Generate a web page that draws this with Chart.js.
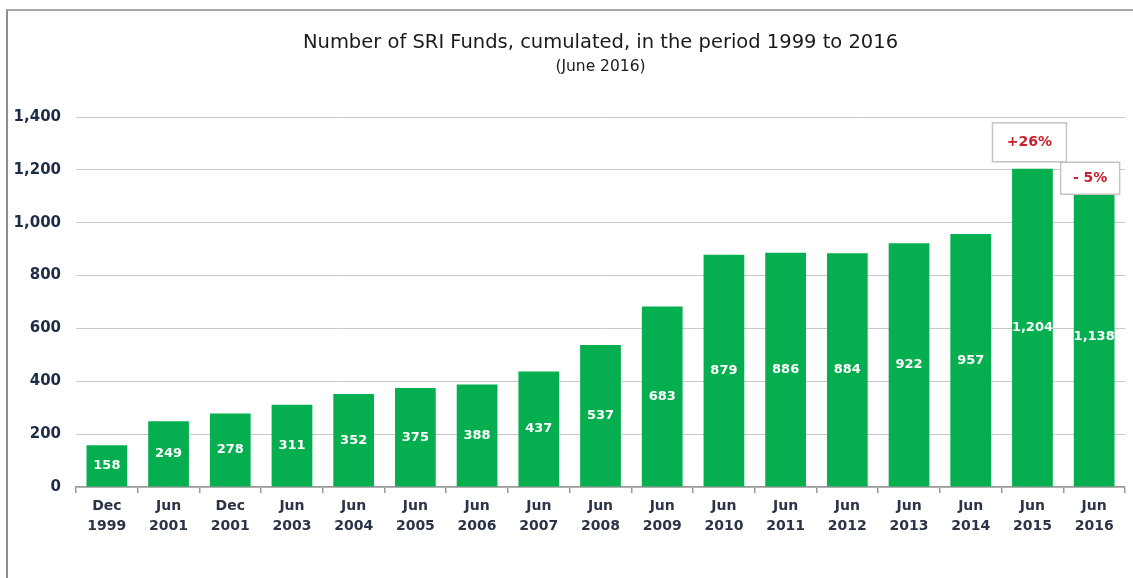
<!DOCTYPE html>
<html>
<head>
<meta charset="utf-8">
<script src="https://cdn.jsdelivr.net/npm/chart.js@4/dist/chart.umd.min.js"></script>
<style>
  html, body { margin: 0; padding: 0; background: #ffffff; }
  #wrap { position: relative; width: 1133px; height: 578px; overflow: hidden; }
  #c { position: absolute; left: 0; top: 0; }
  #frame { position: absolute; left: 6px; top: 9px; width: 1140px; height: 600px;
           border-left: 2px solid #8f8f8f; border-top: 2px solid #a8a8a8; pointer-events: none; }
</style>
</head>
<body>
<div id="wrap">
  <canvas id="c" width="1133" height="578"></canvas>
  <div id="frame"></div>
</div>
<script>
// ---- data ----
const categories = [
  ['Dec','1999'], ['Jun','2001'], ['Dec','2001'], ['Jun','2003'], ['Jun','2004'],
  ['Jun','2005'], ['Jun','2006'], ['Jun','2007'], ['Jun','2008'], ['Jun','2009'],
  ['Jun','2010'], ['Jun','2011'], ['Jun','2012'], ['Jun','2013'], ['Jun','2014'],
  ['Jun','2015'], ['Jun','2016']
];
const fundCounts = [158, 249, 278, 311, 352, 375, 388, 437, 537, 683, 879, 886, 884, 922, 957, 1204, 1138];
const yTicks = [0, 200, 400, 600, 800, 1000, 1200, 1400];
const changeIndices = [15, 16];
const changeLabels = ['+26%', '- 5%'];

const titleText = 'Number of SRI Funds, cumulated, in the period 1999 to 2016';
const subtitleText = '(June 2016)';

const GREEN = '#05ae4e';
const TICK_COLOR = '#1e2c46';

const valueLabels = {
  id: 'valueLabels',
  afterDatasetsDraw(chart) {
    const ctx = chart.ctx;
    const meta = chart.getDatasetMeta(0);
    ctx.save();
    ctx.fillStyle = '#ffffff';
    ctx.font = 'bold 13px "DejaVu Sans"';
    ctx.textAlign = 'center';
    ctx.textBaseline = 'middle';
    meta.data.forEach((bar, i) => {
      const v = fundCounts[i];
      const y = (bar.y + bar.base) / 2;
      ctx.fillText(v.toLocaleString('en-US'), bar.x, y);
    });
    ctx.restore();
  }
};

const changeBoxes = {
  id: 'changeBoxes',
  afterDatasetsDraw(chart) {
    const ctx = chart.ctx;
    const meta = chart.getDatasetMeta(0);
    const styles = [
      { w: 74, h: 39, dx: -3, gap: 7 },
      { w: 59, h: 32, dx: -4, gap: -8 }
    ];
    ctx.save();
    changeIndices.forEach((idx, k) => {
      const bar = meta.data[idx];
      const s = styles[k];
      const bottom = bar.y - s.gap;
      const left = bar.x + s.dx - s.w / 2;
      const top = bottom - s.h;
      ctx.fillStyle = '#ffffff';
      ctx.fillRect(left, top, s.w, s.h);
      ctx.strokeStyle = '#c4c4c4';
      ctx.lineWidth = 1.5;
      ctx.strokeRect(left, top, s.w, s.h);
      ctx.fillStyle = '#c8202c';
      ctx.font = 'bold 14px "DejaVu Sans"';
      ctx.textAlign = 'center';
      ctx.textBaseline = 'middle';
      ctx.fillText(changeLabels[k], left + s.w / 2, top + s.h / 2);
    });
    ctx.restore();
  }
};

new Chart(document.getElementById('c'), {
  type: 'bar',
  data: {
    labels: categories,
    datasets: [{
      data: fundCounts,
      backgroundColor: GREEN,
      borderWidth: 0,
      barPercentage: 0.66,
      categoryPercentage: 1.0
    }]
  },
  options: {
    responsive: false,
    animation: false,
    events: [],
    layout: { padding: { left: 0, right: 8, top: 0, bottom: 0 } },
    plugins: {
      legend: { display: false },
      tooltip: { enabled: false },
      title: {
        display: true,
        text: titleText,
        fullSize: false,
        color: '#1a1a1a',
        font: { family: '"DejaVu Sans"', size: 19.5, weight: 'normal', lineHeight: 1.2 },
        padding: { top: 31, bottom: 3 }
      },
      subtitle: {
        display: true,
        text: subtitleText,
        fullSize: false,
        color: '#1a1a1a',
        font: { family: '"DejaVu Sans"', size: 15.5, weight: 'normal', lineHeight: 1.2 },
        padding: { top: 0, bottom: 41 }
      }
    },
    scales: {
      x: {
        grid: {
          display: true,
          offset: true,
          drawOnChartArea: false,
          drawTicks: true,
          tickLength: 6,
          color: '#9a9a9a',
          lineWidth: 1.5
        },
        border: { display: true, color: '#9a9a9a', width: 1.5 },
        ticks: {
          color: '#2a3446',
          font: { family: '"DejaVu Sans"', size: 14, weight: 'bold', lineHeight: 1.4 },
          padding: 4,
          maxRotation: 0,
          autoSkip: false
        },
        afterFit(scale) { scale.height = 91; }
      },
      y: {
        min: 0,
        max: 1400,
        afterBuildTicks(scale) { scale.ticks = yTicks.map(v => ({ value: v })); },
        grid: {
          color: '#c9c9c9',
          lineWidth: 1,
          drawTicks: false
        },
        border: { display: false },
        ticks: {
          color: TICK_COLOR,
          font: { family: '"DejaVu Sans"', size: 15, weight: 'bold' },
          padding: 15,
          callback: v => v.toLocaleString('en-US')
        },
        afterFit(scale) { scale.width = 76; }
      }
    }
  },
  plugins: [valueLabels, changeBoxes]
});
</script>
</body>
</html>
